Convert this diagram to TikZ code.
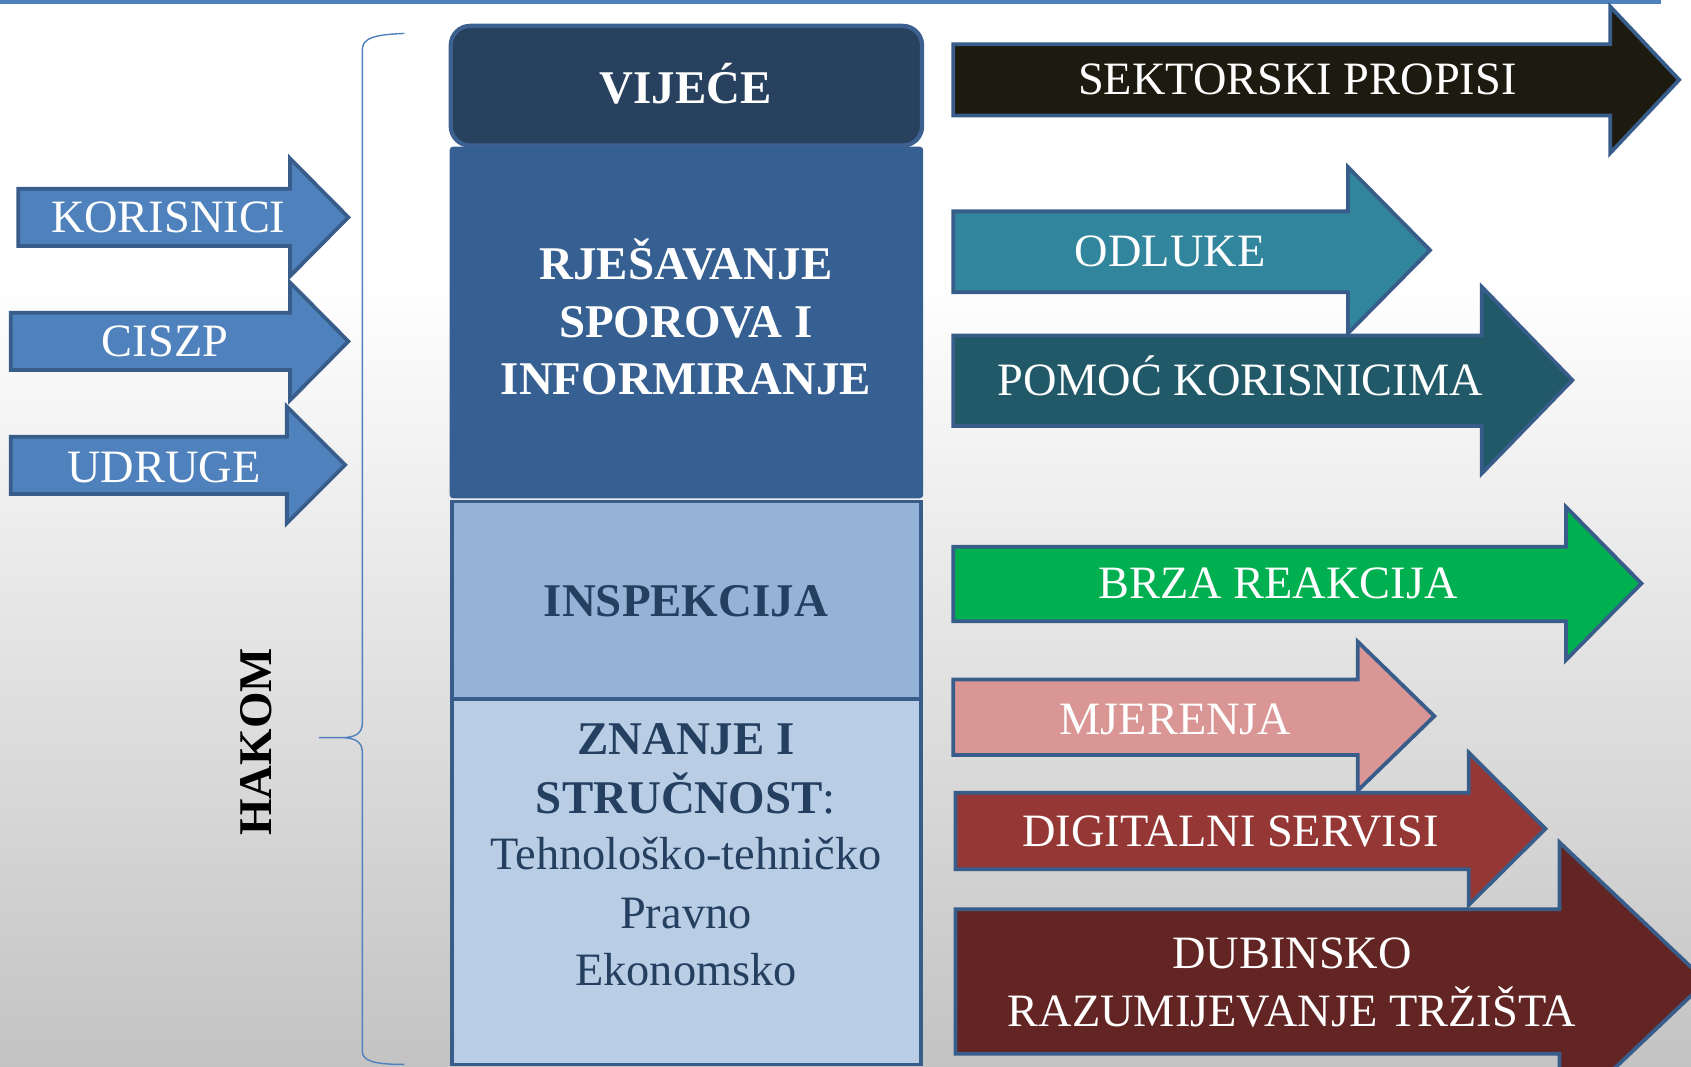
\documentclass[tikz,border=0pt]{standalone}
\usepackage{fontspec}
\setmainfont{Liberation Serif}
\definecolor{bordercol}{HTML}{385D8A}
\definecolor{accblue}{HTML}{4F81BD}
\definecolor{vijece}{HTML}{27415F}
\definecolor{vijeceborder}{HTML}{3C6190}
\definecolor{rjes}{HTML}{376092}
\definecolor{insp}{HTML}{95B3D7}
\definecolor{znanje}{HTML}{B9CDE5}
\definecolor{darktext}{HTML}{243F60}
\definecolor{sekt}{HTML}{1D1B10}
\definecolor{odluke}{HTML}{31859C}
\definecolor{pomoc}{HTML}{215968}
\definecolor{brza}{HTML}{00B050}
\definecolor{mjer}{HTML}{D99694}
\definecolor{digit}{HTML}{953735}
\definecolor{dubin}{HTML}{632523}
\definecolor{bggray}{RGB}{195,195,195}
\newcommand\blockarrow[8]{%
  \draw[arr, fill=#1] (#2,#3) -- (#5,#3) -- (#5,#6) -- (#8,{(#6+#7)/2}) -- (#5,#7) -- (#5,#4) -- (#2,#4) -- cycle;}
\begin{document}
\begin{tikzpicture}[x=1pt,y=-1pt,
  arr/.style={draw=bordercol, line width=3.5pt, line join=miter, miter limit=10},
  wlbl/.style={text=white, font=\fontsize{43}{54}\selectfont, inner sep=0pt, anchor=base},
  bwl/.style={text=white, font=\fontsize{43.5}{54}\selectfont\bfseries, inner sep=0pt, anchor=base},
  dkl/.style={text=darktext, font=\fontsize{43.5}{54}\selectfont\bfseries, inner sep=0pt, anchor=base},
  dnl/.style={text=darktext, font=\fontsize{43}{54}\selectfont, inner sep=0pt, anchor=base},
  panel/.style={draw=bordercol, line width=3.5pt}]
\clip (0,0) rectangle (1568,989);
\fill[white] (0,0) rectangle (1568,262);
\shade[top color=white, bottom color=bggray] (0,260) rectangle (1568,989);
\fill[accblue] (0,0) rectangle (1540,3.5);

% brace
\draw[accblue, line width=1.3pt]
  (375,31) .. controls (348,32) and (336,35) .. (336,46) -- (336,670)
  .. controls (336,680) and (330,684) .. (316,684) -- (296,684)
  (316,684) .. controls (330,684) and (336,688) .. (336,698) -- (336,975)
  .. controls (336,984) and (348,987) .. (375,987);
\node[font=\fontsize{43.5}{54}\selectfont\bfseries, text=black, inner sep=0pt, rotate=90] (hakom) at (238,688) {HAKOM};

% central column
\draw[line width=4pt, draw=vijeceborder, fill=vijece, rounded corners=18pt] (418,24) rectangle (855,135);
\fill[rjes, rounded corners=3pt] (417,136) rectangle (856,462);
\draw[panel, fill=insp] (419,465) rectangle (854,648);
\draw[panel, fill=znanje] (419,648) rectangle (854,987);

\node[bwl] (vijece) at (636,96) {VIJEĆE};
\node[bwl] (rj1) at (636,259) {RJEŠAVANJE};
\node[bwl] (rj2) at (636,313) {SPOROVA I};
\node[bwl] (rj3) at (636,366) {INFORMIRANJE};
\node[dkl] (insp) at (636,572) {INSPEKCIJA};
\node[dkl] (zn1) at (636,700) {ZNANJE I};
\node[dkl, font=\fontsize{43.5}{54}\selectfont] (zn2) at (636,754) {\textbf{STRUČNOST}:};
\node[dnl] (zn3) at (636,806) {Tehnološko-tehničko};
\node[dnl] (zn4) at (636,861) {Pravno};
\node[dnl] (zn5) at (636,914) {Ekonomsko};

% left arrows
\blockarrow{accblue}{17}{175}{228}{269}{147}{256}{323}
\blockarrow{accblue}{10}{290}{343}{269}{262}{371}{323}
\blockarrow{accblue}{10}{405}{458}{266}{377}{485}{320}
\node[wlbl] (kor) at (156,216) {KORISNICI};
\node[wlbl] (ciszp) at (153,331) {CISZP};
\node[wlbl] (udr) at (152,447) {UDRUGE};

% right arrows
\blockarrow{sekt}{884}{41}{107}{1493}{6}{142}{1557}
\blockarrow{odluke}{884}{196}{271}{1250}{155}{309}{1326}
\blockarrow{pomoc}{884}{311}{395}{1374}{266}{439}{1458}
\blockarrow{brza}{884}{507}{576}{1452}{470}{612}{1522}
\blockarrow{mjer}{884}{630}{700}{1259}{595}{733}{1330}
\blockarrow{digit}{886}{735}{806}{1362}{698}{839}{1433}
\blockarrow{dubin}{886}{843}{977}{1446}{781}{1039}{1582}

\node[wlbl] (sek) at (1203,88) {SEKTORSKI PROPISI};
\node[wlbl] (odl) at (1085,247) {ODLUKE};
\node[wlbl] (pom) at (1150,367) {POMOĆ KORISNICIMA};
\node[wlbl] (brz) at (1185,555) {BRZA REAKCIJA};
\node[wlbl] (mje) at (1090,681) {MJERENJA};
\node[wlbl] (dig) at (1141,785) {DIGITALNI SERVISI};
\node[wlbl] (dub1) at (1198,898) {DUBINSKO};
\node[wlbl] (dub2) at (1198,952) {RAZUMIJEVANJE TRŽIŠTA};
\end{tikzpicture}
\end{document}
